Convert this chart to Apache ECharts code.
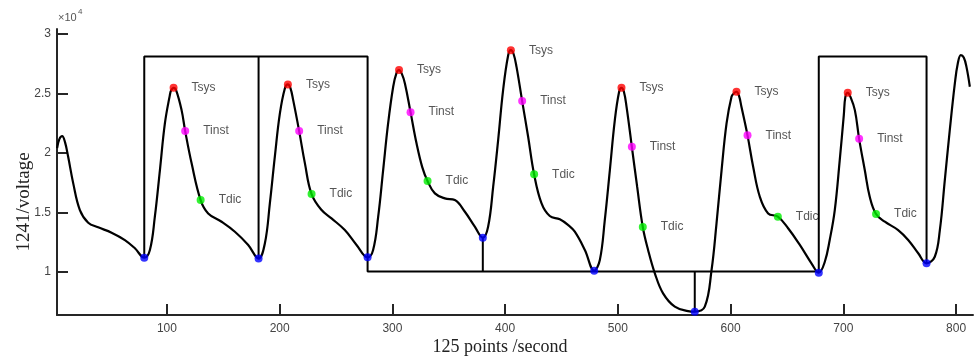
<!DOCTYPE html>
<html>
<head>
<meta charset="utf-8">
<script src="https://cdn.jsdelivr.net/npm/echarts@6/dist/echarts.min.js"></script>
<style>html,body{margin:0;padding:0;background:#fff;}#c{width:974px;height:360px;}</style>
</head>
<body>
<div id="c"></div>
<script>
// ---- data ----
const curveX = [2.6,4.6,7.1,9.6,12.4,16.9,22.8,30.2,39.0,50.9,62.7,71.6,79.9,84.9,89.3,93.8,98.2,102.6,103.8,105.9,108.2,113.0,116.2,121.9,129.9,136.6,148.5,160.3,172.1,181.3,186.9,191.3,195.7,200.2,204.6,207.3,209.5,212.0,217.3,222.4,228.3,237.2,246.0,257.8,268.2,278.0,282.9,287.4,291.8,296.2,300.7,303.6,305.9,308.3,311.1,316.1,321.4,326.4,331.2,337.7,346.5,355.4,364.3,373.1,380.2,384.9,389.4,393.8,398.2,402.7,405.1,407.5,410.1,415.1,420.4,425.7,432.3,439.6,448.5,455.9,461.8,470.7,479.0,484.0,488.4,492.9,497.3,501.1,503.2,505.3,507.7,512.4,517.1,522.1,526.8,532.8,540.1,550.5,562.3,568.2,577.1,583.1,587.5,592.0,596.4,600.8,602.9,605.2,607.4,609.6,615.0,620.0,625.9,633.3,641.9,651.0,661.4,671.7,678.2,683.5,687.9,692.4,696.8,700.4,701.8,703.9,706.1,710.2,714.0,719.0,723.4,729.0,736.8,748.6,757.5,766.4,773.8,781.1,785.6,790.0,794.4,798.9,801.5,804.2,806.8,809.2,812.2];
const curveY = [20400,21150,21400,20900,19670,17440,15200,14140,13750,13300,12680,11990,11200,11850,14640,18560,22470,24850,25250,25460,25250,23590,21830,19120,16040,14920,14220,13380,12270,11130,12410,15760,19670,23310,25410,25750,25450,24430,21830,19120,16540,15200,14500,13520,12270,11230,11850,14640,18560,22470,25550,26700,26950,26650,25830,23420,20800,18830,17630,16600,16180,16040,15060,13800,12880,13800,17160,21070,25270,28200,28620,28300,27220,24350,21350,18200,15760,14700,14420,13940,13380,11850,10110,11010,14360,18560,22750,25130,25460,25150,23870,20510,17160,13780,11850,9890,8210,7090,6720,6670,7090,10170,14090,18560,22470,24710,25000,25130,24800,23870,21470,18830,16320,14920,14640,13670,12270,10730,9940,10840,12690,15200,19400,23170,24700,25040,24750,23590,21180,18560,16320,14870,14220,13520,12690,11570,10730,11280,13520,17720,21910,25830,27500,28200,28000,27220,25550];

const valleyX = [79.9,181.3,278.0,380.2,479.0,568.2,678.2,773.8];
const valleyY = [11200,11130,11230,12880,10110,6670,9940,10730];
const sysX = [105.9,207.3,305.9,405.1,503.2,605.2,703.9];
const sysY = [25460,25750,26950,28620,25460,25130,25040];
const instX = [116.2,217.3,316.1,415.1,512.4,615.0,714.0];
const instY = [21830,21830,23420,24350,20510,21470,21180];
const dicX = [129.9,228.3,331.2,425.7,522.1,641.9,729.0];
const dicY = [16040,16540,17630,18200,13780,14640,14870];

const frameTop = 28100;
const frameBase = 10040;

const xTicks = [100,200,300,400,500,600,700,800];
const yTicks = [10000,15000,20000,25000,30000];

// ---- build ----
const zip = (a, b) => a.map((v, i) => [v, b[i]]);
const V = valleyX, W = valleyY;
const frames = [
  [[V[0],W[0]],[V[0],frameTop],[V[2],frameTop],[V[2],frameBase],[V[6],frameBase],[V[6],frameTop],[V[7],frameTop],[V[7],W[7]]],
  [[V[1],frameTop],[V[1],W[1]]],
  [[V[3],W[3]],[V[3],frameBase]],
  [[V[5],frameBase],[V[5],W[5]]]
];

const axisColor = '#262626';
const labelFont = 'Liberation Sans';

function pointSeries(xs, ys, color, text, withLabel) {
  return {
    type: 'scatter',
    data: zip(xs, ys),
    symbol: 'circle',
    symbolSize: 8,
    itemStyle: { color: color },
    z: 5,
    silent: true,
    label: withLabel ? {
      show: true, position: 'right', distance: 14,
      formatter: text, color: '#2a2a2a', fontSize: 12, fontFamily: labelFont
    } : { show: false }
  };
}

const series = [];
frames.forEach(f => series.push({
  type: 'line', data: f, symbol: 'none', silent: true, z: 2,
  lineStyle: { color: '#000', width: 2 }
}));
series.push({
  type: 'line', data: zip(curveX, curveY), symbol: 'none', smooth: 0.4, z: 3,
  lineStyle: { color: '#000', width: 2.2 }
});
series.push(pointSeries(sysX, sysY, '#ff0000', 'Tsys', true));
series.push(pointSeries(instX, instY, '#ff00ff', 'Tinst', true));
series.push(pointSeries(dicX, dicY, '#00ee00', 'Tdic', true));
series.push(pointSeries(valleyX, valleyY, '#0000ff', '', false));

const chart = echarts.init(document.getElementById('c'), null, { renderer: 'canvas' });
chart.setOption({
  animation: false,
  backgroundColor: '#fff',
  grid: { left: 57, right: 1, top: 29, bottom: 45, containLabel: false, outerBoundsMode: 'none' },
  xAxis: {
    type: 'value', min: 2.5, max: 815,
    splitLine: { show: false },
    axisLine: { onZero: false, lineStyle: { color: axisColor, width: 2 } },
    axisTick: { inside: true, length: 11, customValues: xTicks, lineStyle: { color: axisColor, width: 2 } },
    axisLabel: { customValues: xTicks, color: '#444', fontSize: 12, fontFamily: labelFont, margin: 8 }
  },
  yAxis: {
    type: 'value', min: 6390, max: 30400,
    splitLine: { show: false },
    axisLine: { show: true, onZero: false, lineStyle: { color: axisColor, width: 2 } },
    axisTick: { show: true, inside: true, length: 11, customValues: yTicks, lineStyle: { color: axisColor, width: 2 } },
    axisLabel: { customValues: yTicks, color: '#444', fontSize: 12, fontFamily: labelFont, margin: 6,
      formatter: v => String(v / 10000) }
  },
  graphic: [
    { type: 'text', left: 58, top: 12, style: { text: '×10', fill: '#555', font: '11px "Liberation Sans"' } },
    { type: 'text', left: 78, top: 8, style: { text: '4', fill: '#555', font: '8px "Liberation Sans"' } },
    { type: 'text', x: 24, y: 202, rotation: Math.PI / 2,
      style: { text: '1241/voltage', fill: '#222', font: '19px "Liberation Serif"', align: 'center', verticalAlign: 'middle' } },
    { type: 'text', x: 500, y: 347,
      style: { text: '125 points /second', fill: '#222', font: '18px "Liberation Serif"', align: 'center', verticalAlign: 'middle' } }
  ],
  series: series
});
</script>
</body>
</html>
